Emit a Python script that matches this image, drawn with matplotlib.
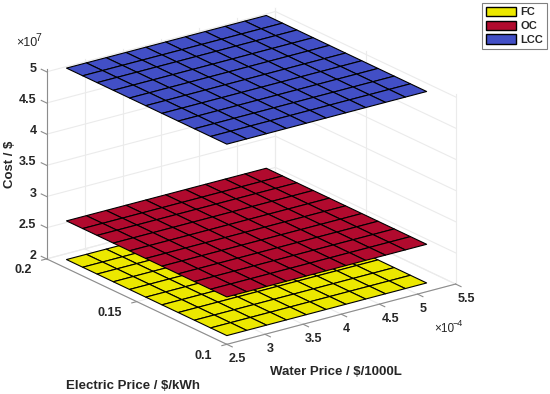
import numpy as np
from matplotlib import pyplot as plt
from matplotlib.patches import Patch

water_price = [2.5, 2.76, 3.02, 3.28, 3.54, 3.8, 4.06, 4.32, 4.58, 4.84, 5.12]
electric_price = [0.1, 0.109, 0.118, 0.127, 0.136, 0.145, 0.154, 0.163, 0.172, 0.18, 0.189]
fc_row = [2.14, 2.14, 2.14, 2.14, 2.14, 2.14, 2.14, 2.14, 2.14, 2.14, 2.14]
oc_row = [2.76, 2.76, 2.76, 2.76, 2.76, 2.76, 2.76, 2.76, 2.76, 2.76, 2.76]
lcc_row = [5.21, 5.21, 5.21, 5.21, 5.21, 5.21, 5.21, 5.21, 5.21, 5.21, 5.21]

x_ticks = [2.5, 3, 3.5, 4, 4.5, 5, 5.5]
x_labels = ['2.5', '3', '3.5', '4', '4.5', '5', '5.5']
y_ticks = [0.1, 0.15, 0.2]
y_labels = ['0.1', '0.15', '0.2']
z_ticks = [2, 2.5, 3, 3.5, 4, 4.5, 5]
z_labels = ['2', '2.5', '3', '3.5', '4', '4.5', '5']

yellow = '#ece800'
red = '#b10a2e'
blue = '#424fc6'
text_col = '#262626'
axis_col = '#8c8c8c'
grid_col = '#ebebeb'

plt.rcParams['font.family'] = ['Liberation Sans', 'DejaVu Sans']
plt.rcParams['font.weight'] = 'bold'

x_min, x_max = 2.5, 5.5
y_min, y_max = 0.1, 0.2
z_min, z_max = 2, 5.05

fig = plt.figure(figsize=(5.5, 3.94), dpi=100)
ax = fig.add_axes([18 / 550, -15.5 / 394, 454 / 550, 454 / 394], projection='3d',
                  computed_zorder=False)
ax.set_proj_type('ortho')
ax.view_init(elev=20.7, azim=-126.7)
ax.set_box_aspect((278.7, 294.5, 198.6), zoom=0.9884)
ax.set_xlim(x_min, x_max, view_margin=0)
ax.set_ylim(y_min, y_max, view_margin=0)
ax.set_zlim(z_min, z_max, view_margin=0)
ax.set_axis_off()

# 墙面网格
for x in x_ticks:
    ax.plot([x, x], [y_max, y_max], [z_min, z_max], color=grid_col, lw=0.8, zorder=1)
    ax.plot([x, x], [y_min, y_max], [z_min, z_min], color=grid_col, lw=0.8, zorder=1)
for y in y_ticks:
    ax.plot([x_max, x_max], [y, y], [z_min, z_max], color=grid_col, lw=0.8, zorder=1)
    ax.plot([x_min, x_max], [y, y], [z_min, z_min], color=grid_col, lw=0.8, zorder=1)
for z in z_ticks:
    ax.plot([x_min, x_max], [y_max, y_max], [z, z], color=grid_col, lw=0.8, zorder=1)
    ax.plot([x_max, x_max], [y_min, y_max], [z, z], color=grid_col, lw=0.8, zorder=1)

# 坐标轴和刻度
ax.plot([x_min, x_min], [y_max, y_max], [z_min, z_max], color=axis_col, lw=0.8, zorder=2)
ax.plot([x_min, x_min], [y_min, y_max], [z_min, z_min], color=axis_col, lw=0.8, zorder=2)
ax.plot([x_min, x_max], [y_min, y_min], [z_min, z_min], color=axis_col, lw=0.8, zorder=2)
for x, label in zip(x_ticks, x_labels):
    ax.plot([x, x], [y_min, y_min - 0.003], [z_min, z_min], color=axis_col, lw=0.8, zorder=2)
    ax.text(x - 0.175, 0.0915, 1.93, label, ha='left', va='center', fontsize=9, color=text_col)
for y, label in zip(y_ticks, y_labels):
    ax.plot([x_min, x_min - 0.065], [y, y], [z_min, z_min], color=axis_col, lw=0.8, zorder=2)
    ax.text(2.31, y, 1.875, label, ha='right', va='center', fontsize=9, color=text_col)
for z, label in zip(z_ticks, z_labels):
    ax.plot([x_min, x_min], [y_max, y_max + 0.003], [z, z], color=axis_col, lw=0.8, zorder=2)
    ax.text(x_min, 0.2057, z - 0.03, label, ha='right', va='center', fontsize=9, color=text_col)

X, Y = np.meshgrid(water_price, electric_price)
rows = len(electric_price)
ax.plot_surface(X, Y, np.array([fc_row] * rows), color=yellow, edgecolor='black',
                linewidth=0.8, shade=False, rstride=1, cstride=1, zorder=3)
ax.plot_surface(X, Y, np.array([oc_row] * rows), color=red, edgecolor='black',
                linewidth=0.8, shade=False, rstride=1, cstride=1, zorder=4)
ax.plot_surface(X, Y, np.array([lcc_row] * rows), color=blue, edgecolor='black',
                linewidth=0.8, shade=False, rstride=1, cstride=1, zorder=5)

fig.text(10 / 550, 1 - 164 / 394, 'Cost / $', rotation=90, ha='center', va='center',
         fontsize=9.5, color=text_col)
fig.text(133 / 550, 1 - 386 / 394, 'Electric Price / $/kWh', ha='center', va='center',
         fontsize=9.5, color=text_col)
fig.text(336 / 550, 1 - 372 / 394, 'Water Price / $/1000L', ha='center', va='center',
         fontsize=9.5, color=text_col)
fig.text(16 / 550, 1 - 43 / 394, '×10', ha='left', va='center', fontsize=9,
         color=text_col, fontweight='normal')
fig.text(35 / 550, 1 - 38 / 394, '7', ha='left', va='center', fontsize=7.5,
         color=text_col, fontweight='normal')
fig.text(434 / 550, 1 - 329 / 394, '×10', ha='left', va='center', fontsize=8.5,
         color=text_col, fontweight='normal')
fig.text(452.5 / 550, 1 - 323 / 394, '\u22124', ha='left', va='center', fontsize=6.5,
         color=text_col, fontweight='normal')

handles = [Patch(facecolor=yellow, edgecolor='black', label='FC'),
           Patch(facecolor=red, edgecolor='black', label='OC'),
           Patch(facecolor=blue, edgecolor='black', label='LCC')]
legend = fig.legend(handles=handles, loc='upper left', bbox_to_anchor=(482 / 550, 1 - 3 / 394),
                    borderaxespad=0, fontsize=8, fancybox=False, edgecolor='#808080',
                    framealpha=1, labelspacing=0.3, handlelength=2.75, handleheight=0.9,
                    handletextpad=0.35, borderpad=0.35, labelcolor=text_col)
legend.get_frame().set_linewidth(0.8)

plt.savefig('out.png', dpi=100)
